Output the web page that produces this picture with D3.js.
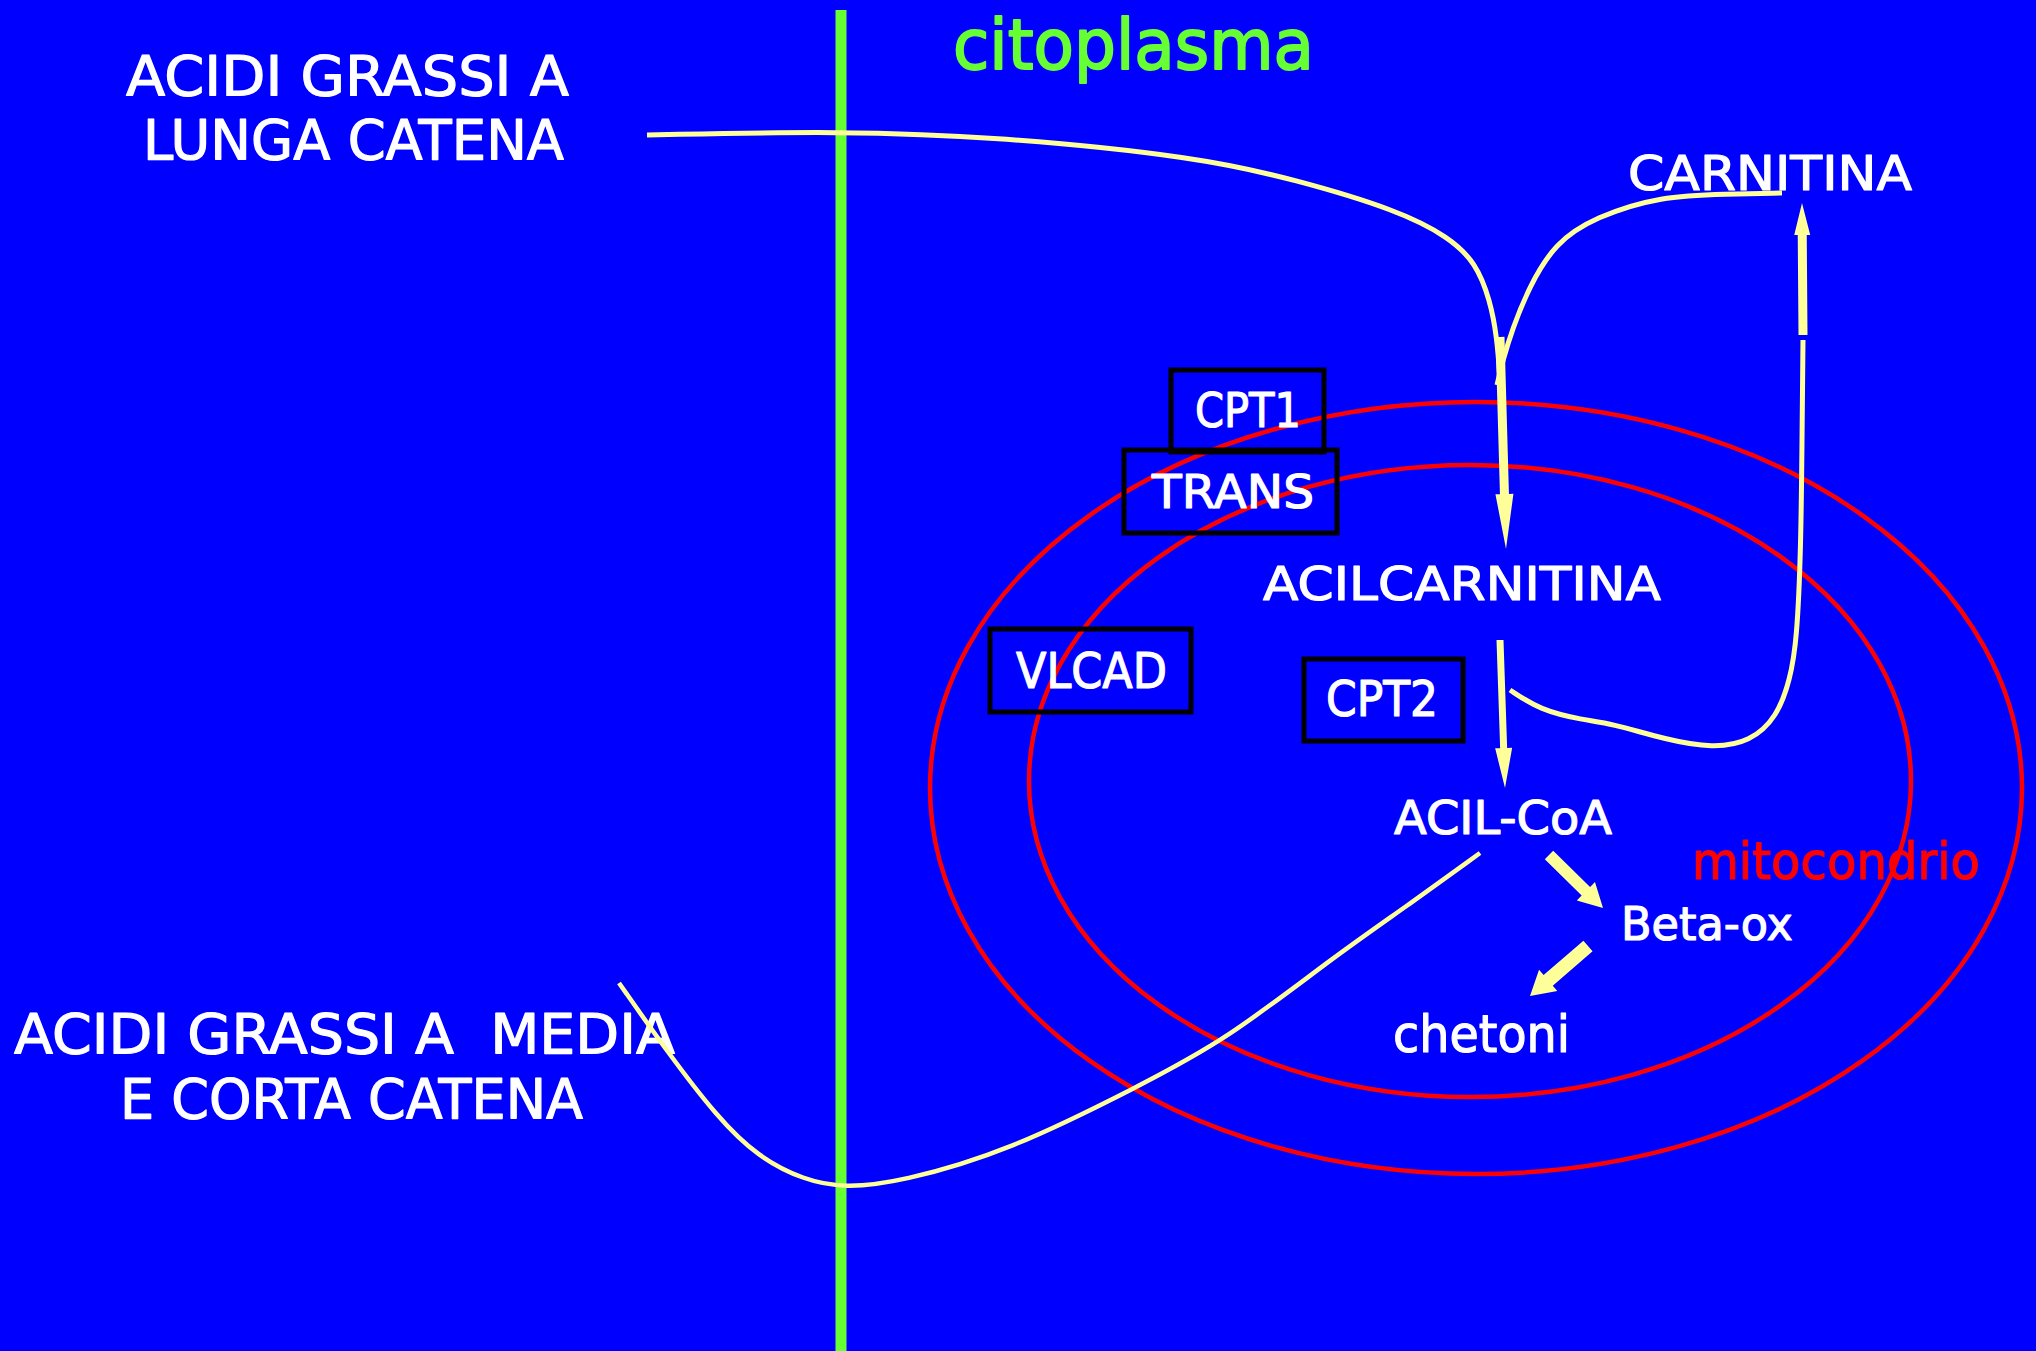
<!DOCTYPE html>
<html>
<head>
<meta charset="utf-8">
<script src="https://cdn.jsdelivr.net/npm/d3@7"></script>
<style>
  html, body { margin: 0; padding: 0; background: #0000ff; overflow: hidden; }
  svg text { font-family: "Comic Sans MS", "DejaVu Sans", sans-serif; }
</style>
</head>
<body>
<svg class="scheme"></svg>
<script>
//CANVAS
const size = {w: 2036, h: 1351};
const svg = d3.select('svg.scheme')
    .attr('width', size.w)
    .attr('height', size.h);

const x = d3.scaleLinear().domain([0, size.w]).range([0, size.w]);
const y = d3.scaleLinear().domain([0, size.h]).range([0, size.h]);

//DATA
const labels = ['citoplasma', 'ACIDI GRASSI A', 'LUNGA CATENA', 'CARNITINA', 'CPT1', 'TRANS',
    'ACILCARNITINA', 'VLCAD', 'CPT2', 'ACIL-CoA', 'mitocondrio', 'Beta-ox', 'chetoni',
    'ACIDI GRASSI A  MEDIA', 'E CORTA CATENA'];
const labelLeft = [953, 126, 143, 1628, 1195, 1152, 1263, 1016, 1326, 1394, 1692, 1621, 1393, 14, 120];
const labelBase = [69, 95, 159, 190, 427, 508, 600, 688, 716, 834, 879, 940, 1052, 1053, 1118];
const labelWidth = [361, 443, 421, 284, 106, 162, 398, 151, 112, 218, 288, 172, 177, 661, 463];
const labelFont = [70, 55, 55, 48, 48, 47, 46, 49, 50, 46, 52, 46, 52, 55, 55];
const labelColor = ['#66ff33', 'white', 'white', 'white', 'white', 'white', 'white', 'white',
    'white', 'white', '#ff0000', 'white', 'white', 'white', 'white'];

// enzyme boxes [x0, y0, x1, y1]
const boxes = [[1171, 370, 1324, 452], [1124, 450, 1337, 533], [990, 629, 1191, 712], [1304, 659, 1463, 741]];

// membranes (outer, inner) [cx, cy, rx, ry]
const membranes = [[1476, 788, 546, 386], [1470, 781, 441, 316]];

// yellow pathways
const longChain = [[647, 135], [841, 131], [1000, 137], [1198, 157], [1297, 180], [1397, 210],
    [1449, 237], [1476, 263], [1490, 300], [1497, 337], [1500, 380]];
const carnitineIn = [[1782, 193], [1727, 194], [1661, 196], [1595, 217], [1555, 243], [1529, 287],
    [1512, 330], [1503, 360], [1497, 385]];
const carnitineOut = [[1510, 690], [1540, 710], [1583, 720], [1610, 723], [1667, 740], [1713, 748],
    [1750, 742], [1777, 717], [1790, 680], [1797, 640], [1801, 545], [1802, 440], [1803, 340]];
const mediumChain = [[619, 983], [666, 1050], [717, 1117], [758, 1157], [804, 1180], [844, 1188],
    [900, 1182], [1009, 1151], [1139, 1086], [1226, 1040], [1335, 956], [1407, 906], [1480, 853]];

// block arrows [from, to, shaft, head width, head length]
const arrows = [
    [[1500, 337], [1506, 549], 9, 18, 55],
    [[1500, 640], [1505, 788], 7, 17, 40],
    [[1803, 335], [1802, 203], 9, 16, 32],
    [[1549, 855], [1603, 908], 12, 26, 24],
    [[1588, 946], [1530, 996], 14, 28, 24]
];

//DRAWING
// plasma membrane
svg.append('line')
    .attr('x1', x(841)).attr('x2', x(841))
    .attr('y1', y(10)).attr('y2', y(size.h))
    .attr('stroke', '#66ff33')
    .attr('stroke-width', 11);

svg.selectAll('ellipse.mito')
    .data(membranes)
    .enter()
    .append('ellipse')
    .attr('class', 'mito')
    .attr('cx', d => x(d[0]))
    .attr('cy', d => y(d[1]))
    .attr('rx', d => d[2])
    .attr('ry', d => d[3])
    .attr('fill', 'none')
    .attr('stroke', '#ff0000')
    .attr('stroke-width', 4.5);

svg.selectAll('text.label')
    .data(labels)
    .enter()
    .append('text')
    .attr('class', 'label')
    .attr('x', (d, i) => x(labelLeft[i]))
    .attr('y', (d, i) => y(labelBase[i]))
    .attr('font-size', (d, i) => labelFont[i])
    .attr('fill', (d, i) => labelColor[i])
    .attr('stroke', (d, i) => labelColor[i])
    .attr('stroke-width', (d, i) => i == 0 ? 2 : 1.2)
    .attr('stroke-linejoin', 'round')
    .attr('textLength', (d, i) => labelWidth[i])
    .attr('lengthAdjust', 'spacingAndGlyphs')
    .style('white-space', 'pre')
    .text(d => d);

svg.selectAll('rect.enzyme')
    .data(boxes)
    .enter()
    .append('rect')
    .attr('class', 'enzyme')
    .attr('x', d => x(d[0]))
    .attr('y', d => y(d[1]))
    .attr('width', d => x(d[2]) - x(d[0]))
    .attr('height', d => y(d[3]) - y(d[1]))
    .attr('fill', 'none')
    .attr('stroke', 'black')
    .attr('stroke-width', 5);

const curve = d3.line()
    .x(d => x(d[0]))
    .y(d => y(d[1]))
    .curve(d3.curveBasis);

const paths = [[longChain, 5], [carnitineIn, 5], [carnitineOut, 5], [mediumChain, 4.5]];
svg.selectAll('path.flow')
    .data(paths)
    .enter()
    .append('path')
    .attr('class', 'flow')
    .attr('d', d => curve(d[0]))
    .attr('fill', 'none')
    .attr('stroke', '#ffff99')
    .attr('stroke-width', d => d[1]);

function arrowShape(a){
    let [p0, p1, sw, hw, hl] = a;
    let dx = p1[0] - p0[0], dy = p1[1] - p0[1];
    let len = Math.hypot(dx, dy);
    let ux = dx / len, uy = dy / len;
    let nx = -uy, ny = ux;
    let b = [p1[0] - ux * hl, p1[1] - uy * hl];
    return [
        [p0[0] + nx * sw / 2, p0[1] + ny * sw / 2],
        [b[0] + nx * sw / 2, b[1] + ny * sw / 2],
        [b[0] + nx * hw / 2, b[1] + ny * hw / 2],
        p1,
        [b[0] - nx * hw / 2, b[1] - ny * hw / 2],
        [b[0] - nx * sw / 2, b[1] - ny * sw / 2],
        [p0[0] - nx * sw / 2, p0[1] - ny * sw / 2]
    ];
}

const poly = d3.line()
    .x(d => x(d[0]))
    .y(d => y(d[1]));

svg.selectAll('path.arrow')
    .data(arrows)
    .enter()
    .append('path')
    .attr('class', 'arrow')
    .attr('d', d => poly(arrowShape(d)) + 'Z')
    .attr('fill', '#ffff99');
</script>
</body>
</html>
